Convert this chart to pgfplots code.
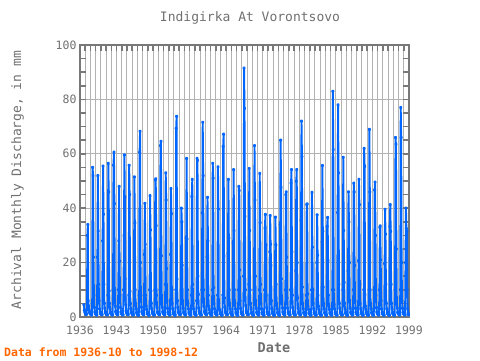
\documentclass[border=0pt]{standalone}
\usepackage{pgfplots}
\pgfplotsset{compat=1.18}
\usepackage{pgfplotstable}
\usepackage{fontspec}
\setmainfont{DejaVu Sans Mono}
\definecolor{txtgray}{RGB}{112,112,112}
\definecolor{framegray}{RGB}{120,120,120}
\definecolor{gridgray}{RGB}{178,178,178}
\definecolor{series}{RGB}{0,102,255}
\definecolor{note}{RGB}{255,102,0}

% monthly values, starting 1936-10, one line per year (Jan ... Dec)
\pgfplotstableread[row sep=\\]{
v\\
4.5\\2.5\\1.8\\
1.4\\1.1\\1.0\\1.0\\3\\30\\34\\6\\4\\2.5\\1.6\\1.3\\
1.1\\0.9\\0.8\\0.8\\5\\55\\52\\22\\8\\3.5\\1.8\\1.3\\
1.1\\0.9\\0.8\\0.8\\22\\52\\31.6\\12\\6\\3\\1.7\\1.3\\
1.2\\1.0\\0.9\\0.9\\28\\55.5\\37.8\\12\\5\\3.2\\1.8\\1.4\\
1.2\\1.0\\0.9\\0.8\\8\\56.5\\46\\9.6\\5\\3\\1.6\\1.3\\
1.1\\0.9\\0.8\\0.8\\10\\55.8\\60.6\\41.7\\10\\4\\2\\1.5\\
1.2\\1.0\\0.9\\0.9\\10\\28\\48\\20.6\\8\\3.5\\1.8\\1.3\\
1.1\\0.9\\0.8\\0.8\\10\\30\\59.6\\44\\14\\4.5\\2.2\\1.5\\
1.3\\1.1\\1.0\\0.9\\8\\55.8\\45\\9.6\\5\\3\\1.7\\1.3\\
1.1\\0.9\\0.8\\0.8\\9\\51.5\\34.6\\10\\5\\3\\1.6\\1.2\\
1.0\\0.8\\0.7\\0.7\\8\\60.6\\68.3\\20\\8\\3.6\\1.9\\1.4\\
1.2\\1.0\\0.9\\0.9\\23\\41.8\\26.7\\8\\4\\2.8\\1.6\\1.2\\
1.0\\0.8\\0.7\\0.7\\10\\44.6\\32\\9.5\\5\\3\\1.7\\1.3\\
1.1\\0.9\\0.8\\0.8\\10\\50.4\\50.8\\33.6\\8\\3.5\\1.8\\1.4\\
1.2\\1.0\\0.9\\0.9\\10\\63\\64.6\\22.5\\8\\3.6\\1.9\\1.4\\
1.2\\1.0\\0.9\\0.8\\12\\53\\43\\17.8\\6\\3.2\\1.7\\1.3\\
1.1\\0.9\\0.8\\0.8\\23\\47.2\\38\\10\\5\\3\\1.6\\1.2\\
1.0\\0.8\\0.7\\0.7\\10\\69.4\\73.8\\14\\6\\3.4\\1.8\\1.4\\
1.2\\1.0\\0.9\\0.9\\10\\40\\35\\19\\6\\3.2\\1.7\\1.3\\
1.1\\0.9\\0.8\\0.8\\29\\58.3\\28.7\\10\\5\\3\\1.6\\1.2\\
1.0\\0.8\\0.7\\0.7\\8\\44.3\\50.6\\12\\5\\3\\1.6\\1.2\\
1.0\\0.8\\0.7\\0.7\\6\\58.3\\57.6\\15\\8.3\\3.4\\1.8\\1.3\\
1.1\\0.9\\0.8\\0.8\\10\\38.3\\71.6\\52\\10\\4\\2\\1.5\\
1.2\\1.0\\0.9\\0.9\\22\\44\\28\\8\\4\\2.8\\1.5\\1.2\\
1.0\\0.8\\0.7\\0.7\\10\\56.5\\51\\10.8\\5\\3\\1.7\\1.3\\
1.1\\0.9\\0.8\\0.8\\8\\55.2\\39.7\\5\\3\\2.4\\1.5\\1.2\\
1.0\\0.8\\0.7\\0.7\\8\\62.7\\67.2\\22.5\\7\\3.5\\1.8\\1.4\\
1.2\\1.0\\0.9\\0.9\\23.3\\50.6\\29\\10\\5\\3\\1.6\\1.2\\
1.0\\0.8\\0.7\\0.7\\27.3\\54.2\\31.8\\10\\5\\3\\1.6\\1.2\\
1.0\\0.8\\0.7\\0.7\\10\\48\\46.5\\17.3\\6\\3.2\\1.7\\1.3\\
1.1\\0.9\\0.8\\0.8\\15\\91.5\\76.7\\37\\10\\4.2\\2.1\\1.5\\
1.3\\1.1\\1.0\\0.9\\12\\54.6\\31.8\\10\\5\\3\\1.6\\1.2\\
1.0\\0.8\\0.7\\0.7\\10\\63\\43\\15\\6\\3.2\\1.7\\1.3\\
1.1\\0.9\\0.8\\0.8\\10\\52.8\\34.7\\12\\5\\3\\1.6\\1.2\\
1.0\\0.8\\0.7\\0.7\\10\\32.8\\37.7\\26.5\\8\\3.4\\1.8\\1.3\\
1.1\\0.9\\0.8\\0.8\\24\\37.3\\26.8\\19\\6\\3\\1.6\\1.2\\
1.0\\0.8\\0.7\\0.7\\10\\36.7\\26.5\\12\\5\\3\\1.6\\1.2\\
1.0\\0.8\\0.7\\0.7\\34\\65\\47.7\\14\\6\\3.3\\1.8\\1.3\\
1.1\\0.9\\0.8\\0.8\\10\\45\\46\\22\\7\\3.3\\1.7\\1.3\\
1.1\\0.9\\0.8\\0.8\\10\\49.2\\54.2\\24\\8\\3.5\\1.8\\1.3\\
1.1\\0.9\\0.8\\0.8\\17\\49.9\\54.2\\20\\7\\3.3\\1.7\\1.3\\
1.1\\0.9\\0.8\\0.8\\35.5\\72\\59\\11\\5\\3\\1.6\\1.2\\
1.0\\0.8\\0.7\\0.7\\8\\41.3\\41.6\\8.5\\4\\2.8\\1.5\\1.2\\
1.0\\0.8\\0.7\\0.7\\10\\45.8\\25.7\\10\\5\\3\\1.6\\1.2\\
1.0\\0.8\\0.7\\0.7\\20\\37.6\\22.7\\8\\4\\2.8\\1.5\\1.2\\
1.0\\0.8\\0.7\\0.7\\27.6\\55.7\\31.5\\11\\5\\3\\1.6\\1.2\\
1.0\\0.8\\0.7\\0.7\\33.3\\36.6\\20.8\\8\\4\\2.8\\1.5\\1.2\\
1.0\\0.8\\0.7\\0.7\\10\\83\\61.6\\10\\4.6\\3\\1.6\\1.2\\
1.0\\0.8\\0.7\\0.7\\38.4\\78\\53\\12\\5\\3.2\\1.7\\1.3\\
1.1\\0.9\\0.8\\0.8\\10\\58.7\\31.8\\12.7\\5\\3\\1.6\\1.2\\
1.0\\0.8\\0.7\\0.7\\17\\46\\35\\20\\6\\3.2\\1.7\\1.3\\
1.1\\0.9\\0.8\\0.8\\10\\49.2\\46\\19\\6\\3.2\\1.7\\1.3\\
1.1\\0.9\\0.8\\0.8\\20.7\\50.6\\41.3\\12\\5\\3\\1.6\\1.2\\
1.0\\0.8\\0.7\\0.7\\10\\62\\55.4\\8.3\\4\\2.8\\1.5\\1.2\\
1.0\\0.8\\0.7\\0.7\\10\\69\\46\\10\\5\\3\\1.6\\1.2\\
1.0\\0.8\\0.7\\0.7\\10\\46.7\\49.6\\30\\8\\3.4\\1.8\\1.3\\
1.1\\0.9\\0.8\\0.8\\10\\33\\33.5\\21\\6\\3\\1.6\\1.2\\
1.0\\0.8\\0.7\\0.7\\19.6\\39.6\\30.5\\12\\5\\3\\1.6\\1.2\\
1.0\\0.8\\0.7\\0.7\\33.3\\41.3\\31.5\\12\\5\\3\\1.6\\1.2\\
1.0\\0.8\\0.7\\0.7\\10\\66\\63.5\\25\\7\\3.3\\1.7\\1.3\\
1.1\\0.9\\0.8\\0.8\\10\\77\\66\\20\\6\\3.2\\1.7\\1.3\\
1.1\\0.9\\0.8\\0.8\\20\\40\\32.5\\31.5\\10\\3\\1.5\\0.8\\
}\discharge

\begin{document}
\begin{tikzpicture}
\useasboundingbox (0pt,0pt) rectangle (480pt,360pt);
\begin{axis}[
  at={(80pt,43pt)}, anchor=south west,
  scale only axis, width=329pt, height=272pt,
  xmin=1936, xmax=1999, ymin=0, ymax=100,
  xtick={1936,1943,...,1999}, minor x tick num=6,
  ytick={0,20,...,100}, minor y tick num=3,
  xmajorgrids, xminorgrids, ymajorgrids,
  major grid style={gridgray, line width=1pt},
  minor grid style={gridgray, line width=1pt},
  axis line style={framegray, line width=2pt},
  tick style={framegray, line width=1.5pt},
  major tick length=6pt, minor tick length=6pt,
  tick align=inside,
  ticklabel style={font=\fontsize{11.5}{12}\selectfont, text=txtgray},
  /pgf/number format/assume math mode=true,
  /pgf/number format/1000 sep={},
  xticklabel style={yshift=-5pt},
]
\addplot[series, line width=1.9pt, line join=bevel, mark=diamond*, mark size=0.9pt]
  table[x expr=1936.75+\coordindex/12, y=v]{\discharge};
\end{axis}
\node[text=txtgray, font=\fontsize{13}{14}\selectfont] at (250pt,342pt) {Indigirka At Vorontsovo};
\node[text=txtgray, font=\fontsize{13}{14}\selectfont, rotate=90] at (17.5pt,180pt) {Archival Monthly Discharge, in mm};
\node[text=txtgray, font=\bfseries\fontsize{13.5}{14}\selectfont] at (274pt,12pt) {Date};
\node[text=note, font=\bfseries\fontsize{11.5}{12}\selectfont, anchor=west, inner sep=0pt] at (4pt,8pt) {Data from 1936-10 to 1998-12};
\end{tikzpicture}
\end{document}
